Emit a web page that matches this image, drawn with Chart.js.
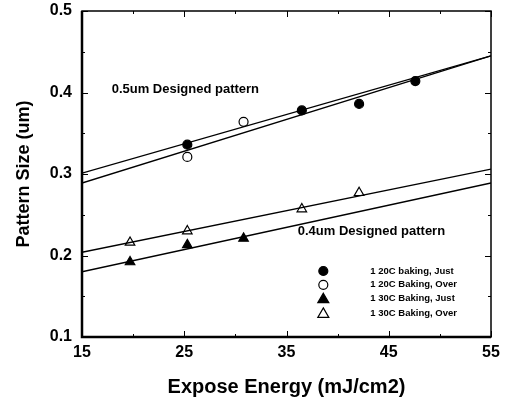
<!DOCTYPE html>
<html>
<head>
<meta charset="utf-8">
<script src="https://cdn.jsdelivr.net/npm/chart.js@4.4.0/dist/chart.umd.min.js"></script>
<style>
  html, body { margin: 0; padding: 0; background: #fff; }
  #wrap { width: 509px; height: 399px; }
</style>
</head>
<body>
<div id="wrap"><canvas id="sizeChart"></canvas></div>
<script>
// energy (mJ/cm2) and pattern size (um)
const energy120Just = [25.3, 36.5, 42.1, 47.6];
const size120Just   = [0.336, 0.378, 0.386, 0.414];
const energy120Over = [25.3, 30.8];
const size120Over   = [0.321, 0.364];
const energy130Just = [19.7, 25.3, 30.8];
const size130Just   = [0.192, 0.213, 0.221];
const energy130Over = [19.7, 25.3, 36.5, 42.1];
const size130Over   = [0.216, 0.230, 0.257, 0.277];

// fit lines, end points at x = 15 and x = 55
const fitX = [15, 55];
const fit120Just = [0.301, 0.445];
const fit120Over = [0.289, 0.445];
const fit130Just = [0.180, 0.289];
const fit130Over = [0.204, 0.306];

const xTicks = [15, 25, 35, 45, 55];
const yTicks = [0.1, 0.2, 0.3, 0.4, 0.5];

const seriesNames = ['1 20C baking, Just', '1 20C Baking, Over', '1 30C Baking, Just', '1 30C Baking, Over'];

const FONT = '"Liberation Sans", Arial, sans-serif';
const toPts = (xs, ys) => xs.map((x, i) => ({ x: x, y: ys[i] }));

function fitLine(ys) {
    return {
        type: 'line',
        data: toPts(fitX, ys),
        borderColor: '#000',
        borderWidth: 1.4,
        pointRadius: 0,
        fill: false
    };
}

function markers(xs, ys, style, filled) {
    return {
        type: 'scatter',
        data: toPts(xs, ys),
        pointStyle: style,
        pointRadius: style === 'triangle' ? 5.5 : 4.5,
        backgroundColor: filled ? '#000' : '#fff',
        borderColor: '#000',
        borderWidth: 1.2
    };
}

// inward ticks, minor ticks, annotations and legend
const decorations = {
    id: 'decorations',
    afterDraw(chart) {
        const ctx = chart.ctx;
        const a = chart.chartArea;
        const xs = chart.scales.x, ys = chart.scales.y;
        ctx.save();
        ctx.strokeStyle = '#000';
        ctx.lineWidth = 1;
        for (let v = 15; v <= 55; v += 5) {
            const px = Math.round(xs.getPixelForValue(v)) + 0.5;
            const len = (v - 15) % 10 === 0 ? 6 : 3;
            ctx.beginPath();
            ctx.moveTo(px, a.bottom); ctx.lineTo(px, a.bottom - len);
            ctx.moveTo(px, a.top); ctx.lineTo(px, a.top + len);
            ctx.stroke();
        }
        for (let v = 0.1; v <= 0.5001; v += 0.05) {
            const py = Math.round(ys.getPixelForValue(v)) + 0.5;
            const len = Math.round(v * 100) % 10 === 0 ? 6 : 3;
            ctx.beginPath();
            ctx.moveTo(a.left, py); ctx.lineTo(a.left + len, py);
            ctx.moveTo(a.right, py); ctx.lineTo(a.right - len, py);
            ctx.stroke();
        }
        // frame: heavier on left and bottom
        ctx.lineWidth = 1.5;
        ctx.strokeRect(a.left, a.top, a.right - a.left, a.bottom - a.top);
        ctx.lineWidth = 2.5;
        ctx.beginPath();
        ctx.moveTo(a.left, a.top); ctx.lineTo(a.left, a.bottom); ctx.lineTo(a.right, a.bottom);
        ctx.stroke();

        // annotations
        ctx.fillStyle = '#000';
        ctx.font = 'bold 13px ' + FONT;
        ctx.textBaseline = 'middle';
        ctx.textAlign = 'left';
        ctx.fillText('0.5um Designed pattern', xs.getPixelForValue(17.9), ys.getPixelForValue(0.404));
        ctx.fillText('0.4um Designed pattern', xs.getPixelForValue(36.1), ys.getPixelForValue(0.230));

        // legend
        const lx = xs.getPixelForValue(38.6);
        const tx = xs.getPixelForValue(43.2);
        const rowY = [0.181, 0.164, 0.147, 0.129];
        ctx.font = 'bold 9.5px ' + FONT;
        seriesNames.forEach((name, i) => {
            const py = ys.getPixelForValue(rowY[i]);
            const tri = i >= 2;
            const filled = i % 2 === 0;
            ctx.beginPath();
            if (tri) {
                ctx.moveTo(lx, py - 5.5);
                ctx.lineTo(lx + 5.5, py + 4);
                ctx.lineTo(lx - 5.5, py + 4);
                ctx.closePath();
            } else {
                ctx.arc(lx, py, 4.5, 0, Math.PI * 2);
            }
            ctx.fillStyle = filled ? '#000' : '#fff';
            ctx.fill();
            ctx.lineWidth = 1.2;
            ctx.stroke();
            ctx.fillStyle = '#000';
            ctx.fillText(name, tx, py);
        });
        ctx.restore();
    }
};

const ctx = document.getElementById('sizeChart').getContext('2d');
new Chart(ctx, {
    data: {
        datasets: [
            fitLine(fit120Just),
            fitLine(fit120Over),
            fitLine(fit130Just),
            fitLine(fit130Over),
            markers(energy120Just, size120Just, 'circle', true),
            markers(energy120Over, size120Over, 'circle', false),
            markers(energy130Just, size130Just, 'triangle', true),
            markers(energy130Over, size130Over, 'triangle', false)
        ]
    },
    options: {
        responsive: true,
        maintainAspectRatio: false,
        animation: false,
        layout: { padding: { top: 11, right: 18, left: 0, bottom: 0 } },
        scales: {
            x: {
                type: 'linear',
                min: 15, max: 55,
                afterBuildTicks: (s) => { s.ticks = xTicks.map(v => ({ value: v })); },
                afterFit: (s) => { s.height = 62; s.paddingLeft = 0; s.paddingRight = 0; },
                grid: { display: false, drawTicks: false },
                border: { display: false },
                ticks: {
                    color: '#000',
                    padding: 6,
                    font: { family: FONT, size: 16, weight: 'bold' }
                },
                title: {
                    display: true,
                    text: 'Expose Energy (mJ/cm2)',
                    color: '#000',
                    padding: { top: 4, bottom: 0 },
                    font: { family: FONT, size: 20, weight: 'bold' }
                }
            },
            y: {
                type: 'linear',
                min: 0.1, max: 0.5,
                afterBuildTicks: (s) => { s.ticks = yTicks.map(v => ({ value: v })); },
                afterFit: (s) => { s.width = 82; s.paddingTop = 0; s.paddingBottom = 0; },
                grid: { display: false, drawTicks: false },
                border: { display: false },
                ticks: {
                    color: '#000',
                    padding: 10,
                    callback: (v) => v.toFixed(1),
                    font: { family: FONT, size: 16, weight: 'bold' }
                },
                title: {
                    display: true,
                    text: 'Pattern Size (um)',
                    color: '#000',
                    padding: { top: 13, bottom: 0 },
                    font: { family: FONT, size: 18, weight: 'bold' }
                }
            }
        },
        plugins: {
            legend: { display: false },
            tooltip: { enabled: false }
        }
    },
    plugins: [decorations]
});
</script>
</body>
</html>
